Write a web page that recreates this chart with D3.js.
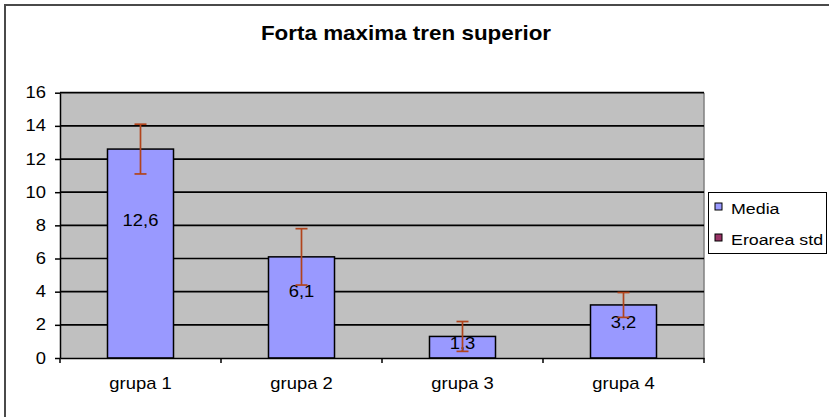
<!DOCTYPE html>
<html>
<head>
<meta charset="utf-8">
<script src="https://cdn.jsdelivr.net/npm/d3@7"></script>
<style>
  body { margin: 0; background: #fff; }
  svg { display: block; font-family: "Liberation Sans", Arial, sans-serif; }
  .axis .domain { stroke: #000; stroke-width: 1.5px; }
  .axis .tick line { stroke: #000; stroke-width: 1.5px; }
</style>
</head>
<body>
<svg width="829" height="417"></svg>
<script>
const categories = ['grupa 1', 'grupa 2', 'grupa 3', 'grupa 4']
const media = [12.6, 6.1, 1.3, 3.2]
const eroare = [1.5, 1.7, 0.9, 0.75]
const valueLabels = ['12,6', '6,1', '1,3', '3,2']
const yTicks = [0, 2, 4, 6, 8, 10, 12, 14, 16]
const legendItems = ['Media', 'Eroarea std']
const title = 'Forta maxima tren superior'

const width = 829
const height = 417
const margin = { top: 92.7, right: 125, bottom: 59, left: 60 }
const stretch = 1.15
const colors = { media: '#9999FF', err: '#993366', errLine: '#B1441C', plot: '#C0C0C0' }

const data = categories.map((c, i) => ({ cat: c, value: media[i], err: eroare[i], label: valueLabels[i] }))

const svg = d3.select('svg')

// text helper: the source image is slightly stretched horizontally
function stretchedText (parent, x, y, str, size, anchor, weight) {
  return parent.append('text')
    .attr('transform', `translate(${ x },${ y }) scale(${ stretch },1)`)
    .attr('text-anchor', anchor || 'start')
    .attr('font-size', size)
    .attr('font-weight', weight || 'normal')
    .attr('fill', '#000')
    .text(str)
}

// outer border
svg.append('rect')
  .attr('x', 5).attr('y', 5)
  .attr('width', width + 20).attr('height', height + 20)
  .attr('fill', '#fff')
  .attr('stroke', '#4a4a4a')
  .attr('stroke-width', 2)

stretchedText(svg, 406, 40, title, 19.5, 'middle', 'bold')

const xBand = d3.scaleBand(categories, [margin.left, width - margin.right])
const xScale = d3.scaleBand(categories, [margin.left, width - margin.right])
  .paddingInner(0.59)
  .paddingOuter(0.295)
const yScale = d3.scaleLinear([0, 16], [height - margin.bottom, margin.top])

// plot area
svg.append('rect')
  .attr('x', margin.left)
  .attr('y', margin.top)
  .attr('width', width - margin.right - margin.left)
  .attr('height', yScale(0) - margin.top)
  .attr('fill', colors.plot)
  .attr('stroke', 'none')

svg.append('line')
  .attr('x1', width - margin.right).attr('x2', width - margin.right)
  .attr('y1', margin.top).attr('y2', yScale(0))
  .attr('stroke', '#808080')
  .attr('stroke-width', 1.5)

// gridlines
svg.append('g')
  .selectAll('line')
  .data(yTicks.filter(d => d > 0))
  .join('line')
  .attr('x1', margin.left)
  .attr('x2', width - margin.right)
  .attr('y1', d => yScale(d))
  .attr('y2', d => yScale(d))
  .attr('stroke', '#000')
  .attr('stroke-width', 1.7)

// bars
svg.append('g')
  .selectAll('rect')
  .data(data)
  .join('rect')
  .attr('x', d => xScale(d.cat))
  .attr('y', d => yScale(d.value))
  .attr('width', xScale.bandwidth())
  .attr('height', d => yScale(0) - yScale(d.value))
  .attr('fill', colors.media)
  .attr('stroke', '#000')
  .attr('stroke-width', 1.5)

// value labels
const labels = svg.append('g')
data.forEach(d => {
  stretchedText(labels, xScale(d.cat) + xScale.bandwidth() / 2, yScale(d.value * 0.66) + 5.5, d.label, 16, 'middle')
})

// error bars
const capW = 6
const errG = svg.append('g')
  .attr('stroke', colors.errLine)
  .attr('stroke-width', 1.7)
  .selectAll('g')
  .data(data)
  .join('g')
  .attr('transform', d => `translate(${ xScale(d.cat) + xScale.bandwidth() / 2 },0)`)
errG.append('line')
  .attr('y1', d => yScale(d.value + d.err))
  .attr('y2', d => yScale(d.value - d.err))
errG.append('line')
  .attr('x1', -capW).attr('x2', capW)
  .attr('y1', d => yScale(d.value + d.err))
  .attr('y2', d => yScale(d.value + d.err))
errG.append('line')
  .attr('x1', -capW).attr('x2', capW)
  .attr('y1', d => yScale(d.value - d.err))
  .attr('y2', d => yScale(d.value - d.err))

// Y axis
const yAxisEl = svg.append('g')
  .classed('axis', true)
  .attr('transform', `translate(${ margin.left },0)`)
  .call(d3.axisLeft(yScale).tickValues(yTicks).tickSize(5).tickSizeOuter(0).tickFormat(''))
yTicks.forEach(t => {
  stretchedText(yAxisEl, -14, yScale(t) + 5.5, String(t), 16, 'end')
})

// X axis
const xAxisEl = svg.append('g')
  .classed('axis', true)
  .attr('transform', `translate(0,${ yScale(0) })`)
  .call(d3.axisBottom(xBand).tickSize(0).tickSizeOuter(0).tickFormat(''))
xAxisEl.selectAll('.tick').remove()
xAxisEl.append('g')
  .selectAll('line')
  .data([...categories.map(c => xBand(c)), width - margin.right])
  .join('line')
  .attr('x1', d => d).attr('x2', d => d)
  .attr('y1', 0).attr('y2', 5)
  .attr('stroke', '#000')
  .attr('stroke-width', 1.5)
categories.forEach(c => {
  stretchedText(xAxisEl, xBand(c) + xBand.bandwidth() / 2, 31, c, 16, 'middle')
})

// Legend
const legend = svg.append('g')
legend.append('rect')
  .attr('x', 708.5).attr('y', 192.5)
  .attr('width', 118).attr('height', 61)
  .attr('fill', '#fff')
  .attr('stroke', '#000')
  .attr('stroke-width', 1)
const legendColors = [colors.media, colors.err]
legendItems.forEach((name, i) => {
  const y = 208 + i * 31
  legend.append('rect')
    .attr('x', 715).attr('y', y - 5)
    .attr('width', 7).attr('height', 7)
    .attr('fill', legendColors[i])
    .attr('stroke', '#000')
    .attr('stroke-width', 1)
  stretchedText(legend, 731, y + 6, name, 15.5, 'start')
})
</script>
</body>
</html>
